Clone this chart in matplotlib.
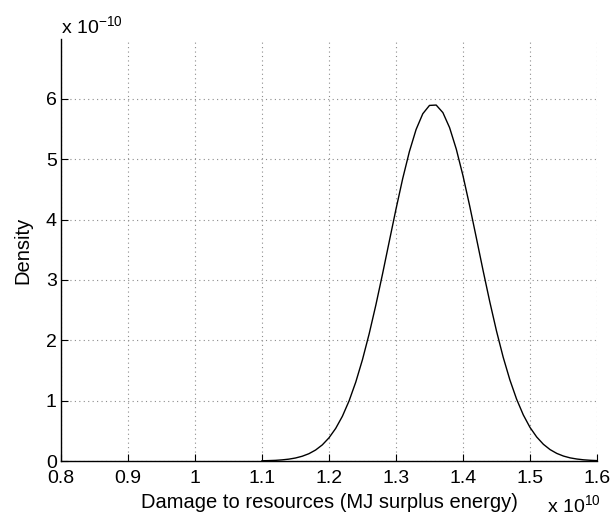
import numpy as np
import matplotlib.pyplot as plt

# Density curve (x in units of 1e10 MJ, y in units of 1e-10)
damage = np.round(np.arange(1.10, 1.605, 0.01), 2)
density = [0.004, 0.007, 0.011, 0.019, 0.031, 0.050, 0.079, 0.121, 0.182, 0.267,
           0.384, 0.540, 0.741, 0.996, 1.308, 1.680, 2.108, 2.586, 3.102, 3.639,
           4.172, 4.677, 5.125, 5.491, 5.752, 5.890, 5.896, 5.771, 5.522, 5.166,
           4.725, 4.225, 3.693, 3.155, 2.637, 2.154, 1.719, 1.343, 1.025, 0.764,
           0.557, 0.398, 0.277, 0.189, 0.126, 0.082, 0.052, 0.033, 0.020, 0.012,
           0.007]

xticks = [0.8, 0.9, 1, 1.1, 1.2, 1.3, 1.4, 1.5, 1.6]
xticklabels = ['0.8', '0.9', '1', '1.1', '1.2', '1.3', '1.4', '1.5', '1.6']
yticks = [0, 1, 2, 3, 4, 5, 6]

plt.rcParams['font.family'] = ['Liberation Sans', 'DejaVu Sans']
fs = 14

fig = plt.figure(figsize=(6.14, 5.18), dpi=100)
ax = fig.add_axes([0.0993, 0.110, 0.873, 0.8147])

ax.plot(damage, density, color='black', linewidth=1.0)

ax.set_xlim(0.8, 1.6)
ax.set_ylim(0, 6.99)
ax.set_xticks(xticks)
ax.set_xticklabels(xticklabels)
ax.set_yticks(yticks)

ax.grid(True, linestyle=(0, (1, 3)), color='#8c8c8c', linewidth=0.8)
ax.tick_params(direction='in', length=5, width=0.8, labelsize=fs)
ax.tick_params(axis='x', pad=6.5)
ax.tick_params(axis='y', pad=3)
for side in ['top', 'right']:
    ax.spines[side].set_visible(False)
for side in ['left', 'bottom']:
    ax.spines[side].set_linewidth(1.0)

ax.set_xlabel('Damage to resources (MJ surplus energy)', fontsize=14.5, labelpad=4)
ax.set_ylabel('Density', fontsize=14.5, labelpad=10)

ax.text(0.0, 1.014, r'x $\mathregular{10^{-10}}$', transform=ax.transAxes,
        ha='left', va='baseline', fontsize=fs)
ax.text(0.9067, -0.121, r'x $\mathregular{10^{10}}$', transform=ax.transAxes,
        ha='left', va='baseline', fontsize=fs)

fig.savefig('out.png', dpi=100)
